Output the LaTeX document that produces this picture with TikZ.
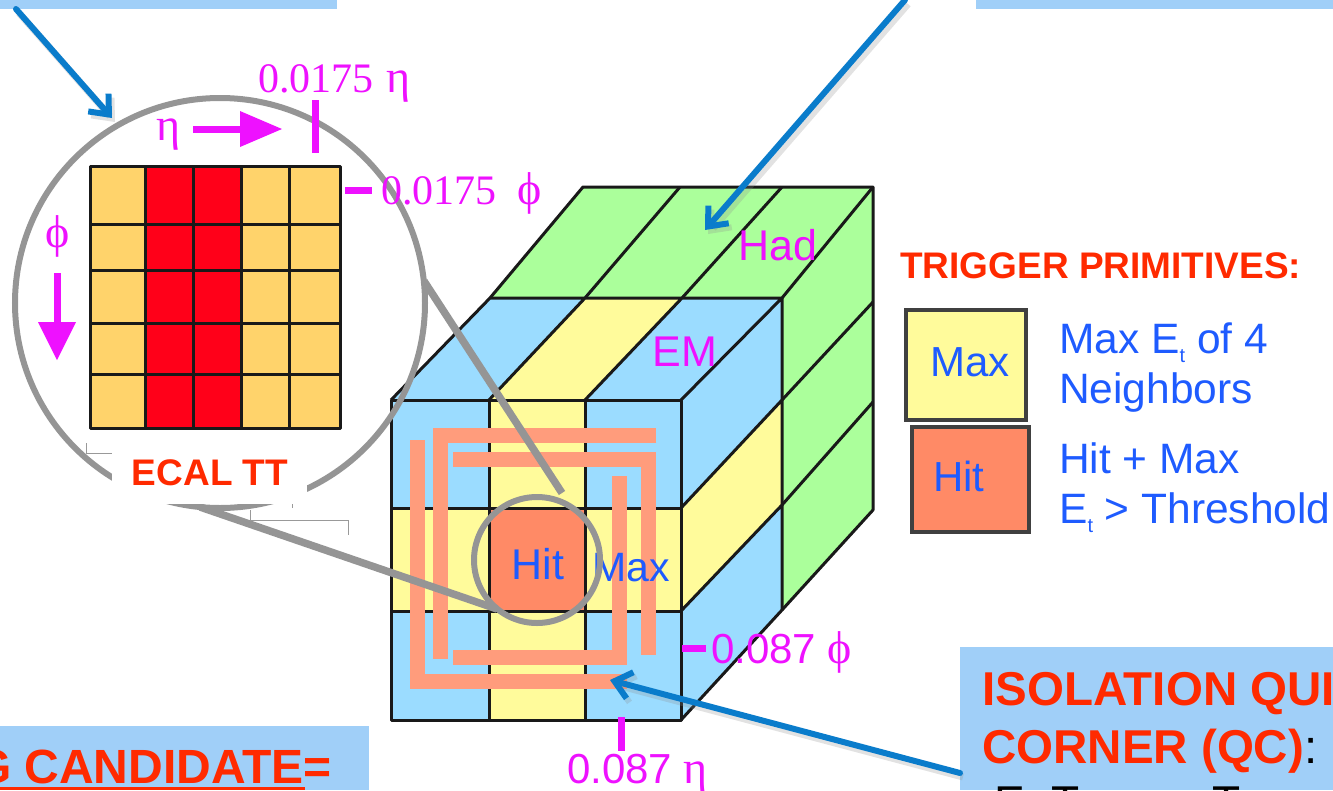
\documentclass[tikz,border=0pt]{standalone}
\usepackage{fontspec}
\setmainfont{Liberation Sans}
\newfontfamily\serifgr{Liberation Serif}
\usetikzlibrary{arrows.meta}
\definecolor{boxblue}{HTML}{A0CFF8}
\definecolor{cellblue}{HTML}{9BDCFF}
\definecolor{cellyellow}{HTML}{FFFB9B}
\definecolor{cellgreen}{HTML}{ABFF9B}
\definecolor{hitorange}{HTML}{FF8A66}
\definecolor{salmon}{HTML}{FF9C7C}
\definecolor{ttorange}{HTML}{FFD36B}
\definecolor{ttred}{HTML}{FF0019}
\definecolor{magentax}{HTML}{EE11FF}
\definecolor{textblue}{HTML}{1E5BFF}
\definecolor{titlered}{HTML}{FF2A00}
\definecolor{arrowblue}{HTML}{0A7CCB}
\definecolor{lensgray}{HTML}{959595}
\newcommand{\fs}[1]{\fontsize{#1}{#1}\selectfont}
\newcommand{\grk}[1]{{\serifgr\fs{46}#1}}
\tikzset{
  x=1pt,y=-1pt,
  grid/.style={draw=black!90,line width=3pt,line join=round},
  salmonband/.style={draw=salmon,line width=15pt,line join=miter},
  lens/.style={draw=lensgray,line width=6pt},
  lensline/.style={draw=lensgray,line width=7.5pt},
  tick/.style={draw=magentax,line width=7pt},
  magtext/.style={text=magentax,inner sep=0pt,font=\fs{43}},
  serifmag/.style={text=magentax,inner sep=0pt,font=\serifgr\fs{42}},
  bluetext/.style={text=textblue,inner sep=0pt,font=\fs{42.5},anchor=base west},
  redtitle/.style={text=titlered,inner sep=0pt,font=\bfseries\fs{37}},
  callout/.style={
    draw=arrowblue,line width=6pt,line cap=round,
    -{Straight Barb[length=16pt,width=27pt,line width=6pt]},
    preaction={draw=black!45,opacity=.25,line width=7pt,
      transform canvas={shift={(3pt,-4pt)}}}},
  faint/.style={draw=black!40,line width=.8pt},
}
\begin{document}
\begin{tikzpicture}
\useasboundingbox (0,0) rectangle (1333,790);
\begin{scope}
\clip (0,0) rectangle (1333,790);
% blue text boxes
\fill[boxblue] (0,0) rectangle (337,9);
\fill[boxblue] (976,0) rectangle (1333,9);
\fill[boxblue] (0,726) rectangle (369,790);
\fill[boxblue] (960,647) rectangle (1333,790);
\node[text=titlered,inner sep=0pt,anchor=base east,font=\bfseries\fs{48}] (cand) at (332,783) {G CANDIDATE=};
\draw[titlered,line width=3pt] (0,788.5) -- (305,788.5);
\node[text=titlered,inner sep=0pt,anchor=base west,font=\bfseries\fs{47.5}] (iso) at (982,705) {ISOLATION QUI};
\node[inner sep=0pt,anchor=base west,font=\bfseries\fs{47.5}] (qc) at (982,763) {\textcolor{titlered}{CORNER (QC)}\textcolor{black}{\mdseries:}};
\node[inner sep=0pt,anchor=base west,font=\fs{46}] (qcE) at (994,818) {E};
\node[inner sep=0pt,anchor=base west,font=\fs{46}] (qcT) at (1051,818) {T};
\node[inner sep=0pt,anchor=base west,font=\fs{46}] (qcTb) at (1212,818) {T};
% Had faces
\fill[cellgreen] (490,298) -- (583,187) -- (873,187) -- (782,298) -- cycle;
\fill[cellgreen] (782,298) -- (873,187) -- (873,510) -- (782,610) -- cycle;
\draw[grid] (490,298) -- (583,187) -- (873,187) -- (873,510) -- (782,610);
\draw[grid] (585,298) -- (680,187) (682,298) -- (782,187) (782,298) -- (873,187)
  (782,400) -- (873,302) (782,505) -- (873,402);
% EM top
\fill[cellblue] (391,400) -- (490,298) -- (782,298) -- (681,400) -- cycle;
\fill[cellyellow] (489,400) -- (585,298) -- (682,298) -- (585,400) -- cycle;
% EM right
\fill[cellblue] (681,400) -- (782,298) -- (782,610) -- (681,720) -- cycle;
\fill[cellyellow] (681,508) -- (782,400) -- (782,505) -- (681,611) -- cycle;
% EM front
\fill[cellblue] (391,400) rectangle (681,720);
\fill[cellyellow] (489,400) rectangle (585,720);
\fill[cellyellow] (391,508) rectangle (681,611);
\fill[hitorange] (489,508) rectangle (585,611);
\draw[grid] (391,400) rectangle (681,720);
\draw[grid] (489,400) -- (489,720) (585,400) -- (585,720) (391,508) -- (681,508) (391,611) -- (681,611);
\draw[grid] (391,400) -- (490,298) -- (782,298) -- (681,400)
  (489,400) -- (585,298) (585,400) -- (682,298)
  (782,298) -- (782,610) -- (681,720)
  (681,508) -- (782,400) (681,611) -- (782,505);
% isolation quiet-corner bands
\draw[salmonband] (417,440) -- (417,681) -- (627,681);
\draw[salmonband] (656,435) -- (440,435) -- (440,659);
\draw[salmonband] (453,459) -- (648,459) -- (648,655);
\draw[salmonband] (619,476) -- (619,657) -- (453,657);
% cube labels
\node[magtext] (had) at (778,245) {Had};
\node[magtext] (em) at (685,352) {EM};
\node[text=textblue,inner sep=0pt,font=\fs{43}] (hit) at (538,564) {Hit};
\node[text=textblue,inner sep=0pt,font=\fs{41}] (max) at (631,568) {Max};
% dimension marks on cube
\draw[tick] (682,648) -- (706,648);
\node[text=magentax,inner sep=0pt,anchor=base west,font=\fs{42}] (phiB) at (711,663) {0.087 \grk{ϕ}};
\draw[tick] (621,717) -- (621,751);
\node[text=magentax,inner sep=0pt,anchor=base west,font=\fs{42}] (etaB) at (567,783) {0.087 \grk{η}};
% ECAL tower
\fill[ttorange] (90,166) rectangle (340,428);
\fill[ttred] (145,166) rectangle (241,428);
\draw[grid] (90,166) rectangle (340,428);
\draw[grid] (145,166) -- (145,428) (193,166) -- (193,428) (241,166) -- (241,428) (289,166) -- (289,428)
  (90,224) -- (340,224) (90,270) -- (340,270) (90,323) -- (340,323) (90,374) -- (340,374);
% lens
\draw[lens] (220,303) circle[radius=205];
\draw[lensline] (200,507) -- (497,609);
\draw[lensline] (424,281) -- (562,493);
\draw[lens] (537,560) circle[radius=63];
% label patch
\fill[white] (112,453) rectangle (307,504);
\draw[faint] (86,443) -- (86,453) -- (112,453);
\draw[faint] (250,510) -- (250,520) -- (348,520) -- (348,535);
\draw[faint] (292,504) -- (292,508);
\node[redtitle] (ecal) at (210,473) {ECAL TT};
% ECAL marks
\node[serifmag] (etaA) at (169,135) {\grk{η}};
\draw[magentax,line width=7pt] (193,129) -- (242,129);
\fill[magentax] (240,111) -- (282,129) -- (240,147) -- cycle;
\draw[tick] (315,100) -- (315,153);
\node[serifmag,anchor=base west] (topE) at (258,92) {0.0175\hspace{13pt}\grk{η}};
\draw[tick] (345,190) -- (372,190);
\node[serifmag,anchor=base west] (topP) at (381,204) {0.0175\hspace{21pt}\grk{ϕ}};
\node[serifmag] (phiA) at (58,236) {\grk{ϕ}};
\draw[magentax,line width=7pt] (57,273) -- (57,325);
\fill[magentax] (38,322) -- (76,322) -- (57,360) -- cycle;
% legend
\node[redtitle,anchor=base west] (trig) at (900,278) {TRIGGER PRIMITIVES:};
\node[draw=black!75,line width=3.5pt,fill=cellyellow,minimum width=120pt,minimum height=110pt,inner sep=0pt] (legMax) at (966,365) {};
\node[draw=black!75,line width=3.5pt,fill=hitorange,minimum width=117pt,minimum height=105pt,inner sep=0pt] (legHit) at (970.5,479.5) {};
\node[text=textblue,inner sep=0pt,font=\fs{42}] (legMaxT) at (970,362) {Max};
\node[text=textblue,inner sep=0pt,font=\fs{42}] (legHitT) at (959,476) {Hit};
\node[bluetext] (l1) at (1059,353) {Max E\raisebox{-9pt}{\fs{20}t} of 4};
\node[bluetext] (l2) at (1059,403) {Neighbors};
\node[bluetext] (l3) at (1059,473) {Hit + Max};
\node[bluetext] (l4) at (1059,523) {E\raisebox{-9pt}{\fs{20}t} > Threshold};
% callout arrows
\coordinate (fromTL) at (16,9);
\coordinate (toLens) at (112,118);
\coordinate (fromTop) at (905,0);
\coordinate (toHad) at (705,230);
\coordinate (fromIso) at (960,773);
\coordinate (toBand) at (610,680);
\draw[callout] (fromTL) -- (toLens);
\draw[callout] (fromTop) -- (toHad);
\draw[callout] (fromIso) -- (toBand);
\end{scope}
\end{tikzpicture}
\end{document}
